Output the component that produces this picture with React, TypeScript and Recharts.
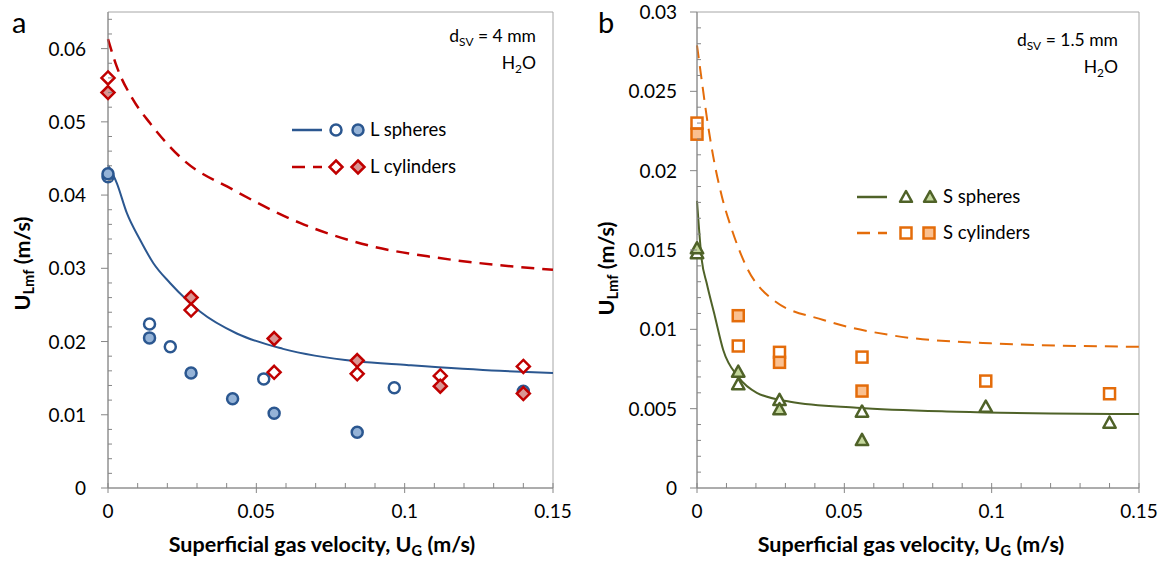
import React from "react";
import {
  ComposedChart,
  Line,
  Scatter,
  XAxis,
  YAxis,
  ReferenceArea,
} from "recharts";

// ---- panel a: large particles (dSV = 4 mm) ----
const lsFit = [
  { x: 0, y: 0.0441 },
  { x: 0.003, y: 0.0416 },
  { x: 0.0063, y: 0.0376 },
  { x: 0.0108, y: 0.0339 },
  { x: 0.0153, y: 0.0307 },
  { x: 0.0209, y: 0.028 },
  { x: 0.0265, y: 0.0257 },
  { x: 0.031, y: 0.0241 },
  { x: 0.0434, y: 0.0211 },
  { x: 0.059, y: 0.019 },
  { x: 0.0838, y: 0.0173 },
  { x: 0.1007, y: 0.0168 },
  { x: 0.132, y: 0.016 },
  { x: 0.15, y: 0.0157 },
];
const lcFit = [
  { x: 0, y: 0.0613 },
  { x: 0.0029, y: 0.0576 },
  { x: 0.0085, y: 0.053 },
  { x: 0.0142, y: 0.0498 },
  { x: 0.0254, y: 0.0448 },
  { x: 0.0423, y: 0.0407 },
  { x: 0.0647, y: 0.0362 },
  { x: 0.088, y: 0.0331 },
  { x: 0.11, y: 0.0315 },
  { x: 0.13, y: 0.0305 },
  { x: 0.15, y: 0.0298 },
];
const lsOpen = [
  { x: 0, y: 0.0425 },
  { x: 0.014, y: 0.0224 },
  { x: 0.021, y: 0.0193 },
  { x: 0.0525, y: 0.0149 },
  { x: 0.0965, y: 0.0137 },
];
const lsFilled = [
  { x: 0, y: 0.0429 },
  { x: 0.014, y: 0.0205 },
  { x: 0.028, y: 0.0157 },
  { x: 0.042, y: 0.0122 },
  { x: 0.056, y: 0.0102 },
  { x: 0.084, y: 0.0076 },
  { x: 0.14, y: 0.0132 },
];
const lcOpen = [
  { x: 0, y: 0.056 },
  { x: 0.028, y: 0.0243 },
  { x: 0.056, y: 0.0158 },
  { x: 0.084, y: 0.0156 },
  { x: 0.112, y: 0.0153 },
  { x: 0.14, y: 0.0166 },
];
const lcFilled = [
  { x: 0, y: 0.054 },
  { x: 0.028, y: 0.026 },
  { x: 0.056, y: 0.0204 },
  { x: 0.084, y: 0.0174 },
  { x: 0.112, y: 0.0139 },
  { x: 0.14, y: 0.0129 },
];

// ---- panel b: small particles (dSV = 1.5 mm) ----
const ssFit = [
  { x: 0, y: 0.0181 },
  { x: 0.0016, y: 0.0144 },
  { x: 0.0033, y: 0.0129 },
  { x: 0.0061, y: 0.0108 },
  { x: 0.0089, y: 0.0087 },
  { x: 0.014, y: 0.007 },
  { x: 0.0203, y: 0.006 },
  { x: 0.0316, y: 0.00544 },
  { x: 0.0542, y: 0.00506 },
  { x: 0.0882, y: 0.00481 },
  { x: 0.12, y: 0.0047 },
  { x: 0.15, y: 0.00466 },
];
const scFit = [
  { x: 0, y: 0.0279 },
  { x: 0.0016, y: 0.0257 },
  { x: 0.0033, y: 0.0234 },
  { x: 0.0055, y: 0.0209 },
  { x: 0.0084, y: 0.0184 },
  { x: 0.0118, y: 0.0163 },
  { x: 0.0169, y: 0.0139 },
  { x: 0.0259, y: 0.01185 },
  { x: 0.0429, y: 0.01059 },
  { x: 0.0655, y: 0.00964 },
  { x: 0.0995, y: 0.00912 },
  { x: 0.15, y: 0.0089 },
];
const ssOpen = [
  { x: 0, y: 0.0148 },
  { x: 0.014, y: 0.00653 },
  { x: 0.028, y: 0.00554 },
  { x: 0.056, y: 0.00481 },
  { x: 0.098, y: 0.00512 },
  { x: 0.14, y: 0.00411 },
];
const ssFilled = [
  { x: 0, y: 0.0151 },
  { x: 0.014, y: 0.00733 },
  { x: 0.028, y: 0.00496 },
  { x: 0.056, y: 0.00302 },
];
const scOpen = [
  { x: 0, y: 0.023 },
  { x: 0.014, y: 0.00895 },
  { x: 0.028, y: 0.00855 },
  { x: 0.056, y: 0.00825 },
  { x: 0.098, y: 0.00674 },
  { x: 0.14, y: 0.00594 },
];
const scFilled = [
  { x: 0, y: 0.0223 },
  { x: 0.014, y: 0.01086 },
  { x: 0.028, y: 0.00792 },
  { x: 0.056, y: 0.00611 },
];

// ---- axis ticks ----
const xTicks = [
  0, 0.01, 0.02, 0.03, 0.04, 0.05, 0.06, 0.07, 0.08, 0.09, 0.1, 0.11, 0.12,
  0.13, 0.14, 0.15,
];
const xMajor = [0, 0.05, 0.1, 0.15];
const yTicksA = [
  0, 0.002, 0.004, 0.006, 0.008, 0.01, 0.012, 0.014, 0.016, 0.018, 0.02, 0.022,
  0.024, 0.026, 0.028, 0.03, 0.032, 0.034, 0.036, 0.038, 0.04, 0.042, 0.044,
  0.046, 0.048, 0.05, 0.052, 0.054, 0.056, 0.058, 0.06, 0.062, 0.064,
];
const yMajorA = [0, 0.01, 0.02, 0.03, 0.04, 0.05, 0.06];
const yTicksB = [
  0, 0.001, 0.002, 0.003, 0.004, 0.005, 0.006, 0.007, 0.008, 0.009, 0.01,
  0.011, 0.012, 0.013, 0.014, 0.015, 0.016, 0.017, 0.018, 0.019, 0.02, 0.021,
  0.022, 0.023, 0.024, 0.025, 0.026, 0.027, 0.028, 0.029, 0.03,
];
const yMajorB = [0, 0.005, 0.01, 0.015, 0.02, 0.025, 0.03];

const FONT = "Lato, 'Open Sans', sans-serif";
const AXIS = "#868686";
const FRAME = "#A6A6A6";
const DASH = "13 8";

const BLUE = "#2B5790";
const BLUE_FILL = "#95B3D7";
const RED = "#C00000";
const RED_FILL = "#D99694";
const GREEN = "#4F6228";
const GREEN_FILL = "#C3D69B";
const ORANGE = "#E46C0A";
const ORANGE_FILL = "#FAC090";

const near = (v: number, list: number[]) =>
  list.some((m) => Math.abs(m - v) < 1e-7);

function makeXTick() {
  return (props: any) => {
    const { x, y, payload } = props;
    const major = near(payload.value, xMajor);
    return (
      <g>
        {major ? (
          <line x1={x} x2={x} y1={y - 5} y2={y + 5} stroke={AXIS} />
        ) : (
          <line x1={x} x2={x} y1={y - 5} y2={y} stroke={AXIS} />
        )}
        {major && (
          <text
            x={x}
            y={y + 30}
            textAnchor="middle"
            fontFamily={FONT}
            fontSize={19}
            fill="#000"
          >
            {String(payload.value)}
          </text>
        )}
      </g>
    );
  };
}

function makeYTick(majors: number[], gap: number) {
  return (props: any) => {
    const { x, y, payload } = props;
    const major = near(payload.value, majors);
    return (
      <g>
        {major ? (
          <line x1={x - 7} x2={x} y1={y} y2={y} stroke={AXIS} />
        ) : (
          <line x1={x} x2={x + 4} y1={y} y2={y} stroke={AXIS} />
        )}
        {major && (
          <text
            x={x - gap}
            y={y + 7}
            textAnchor="end"
            fontFamily={FONT}
            fontSize={19}
            fill="#000"
          >
            {String(payload.value)}
          </text>
        )}
      </g>
    );
  };
}

const circleShape = (stroke: string, fill: string) => (p: any) =>
  <circle cx={p.cx} cy={p.cy} r={5.5} fill={fill} stroke={stroke} strokeWidth={2.5} />;

const diamondShape = (stroke: string, fill: string) => (p: any) => {
  const s = 6.5;
  return (
    <polygon
      points={`${p.cx},${p.cy - s} ${p.cx + s},${p.cy} ${p.cx},${p.cy + s} ${p.cx - s},${p.cy}`}
      fill={fill}
      stroke={stroke}
      strokeWidth={2.5}
    />
  );
};

const squareShape = (stroke: string, fill: string) => (p: any) =>
  <rect x={p.cx - 5.5} y={p.cy - 5.5} width={11} height={11} fill={fill} stroke={stroke} strokeWidth={2.5} />;

const triangleShape = (stroke: string, fill: string) => (p: any) => {
  const h = 6.2;
  return (
    <polygon
      points={`${p.cx},${p.cy - h} ${p.cx + h},${p.cy + h * 0.8} ${p.cx - h},${p.cy + h * 0.8}`}
      fill={fill}
      stroke={stroke}
      strokeWidth={2.5}
      strokeLinejoin="round"
    />
  );
};

const sub = (t: string) => (
  <span style={{ fontSize: "0.68em", position: "relative", top: "0.3em" }}>{t}</span>
);

function Text({ left, top, right, children, style }: any) {
  return (
    <div
      style={{
        position: "absolute",
        left,
        top,
        right,
        fontFamily: FONT,
        fontSize: 17.5,
        lineHeight: "20px",
        color: "#000",
        whiteSpace: "nowrap",
        ...style,
      }}
    >
      {children}
    </div>
  );
}

function LegendRow({ left, top, line, dash, a, b, label, textLeft }: any) {
  return (
    <div style={{ position: "absolute", left, top, height: 24 }}>
      <svg width={90} height={24} style={{ position: "absolute", left: 0, top: 0 }}>
        <line x1={0} x2={30} y1={12} y2={12} stroke={line} strokeWidth={2.5} strokeDasharray={dash} />
        {a}
        {b}
      </svg>
      <span
        style={{
          position: "absolute",
          left: textLeft,
          top: 0,
          fontFamily: FONT,
          fontSize: 18.5,
          whiteSpace: "nowrap",
        }}
      >
        {label}
      </span>
    </div>
  );
}

function PanelA() {
  return (
    <div style={{ position: "absolute", left: 0, top: 0 }}>
      <ComposedChart width={580} height={562} margin={{ top: 12, right: 27, bottom: 0, left: 0 }}>
        <XAxis
          dataKey="x"
          type="number"
          domain={[0, 0.15]}
          ticks={xTicks}
          interval={0}
          height={74}
          stroke={AXIS}
          tickSize={0}
          tickMargin={0}
          tickLine={false}
          tick={makeXTick()}
        />
        <YAxis
          type="number"
          domain={[0, 0.065]}
          ticks={yTicksA}
          interval={0}
          width={108}
          stroke={AXIS}
          tickSize={0}
          tickMargin={0}
          tickLine={false}
          tick={makeYTick(yMajorA, 22)}
        />
        <ReferenceArea x1={0} x2={0.15} y1={0} y2={0.065} fill="none" stroke={FRAME} ifOverflow="visible" />
        <Line data={lcFit} dataKey="y" type="monotone" stroke={RED} strokeWidth={2.5} strokeDasharray={DASH} dot={false} isAnimationActive={false} />
        <Line data={lsFit} dataKey="y" type="monotone" stroke={BLUE} strokeWidth={2} dot={false} isAnimationActive={false} />
        <Scatter data={lsOpen} dataKey="y" shape={circleShape(BLUE, "#fff")} isAnimationActive={false} />
        <Scatter data={lsFilled} dataKey="y" shape={circleShape(BLUE, BLUE_FILL)} isAnimationActive={false} />
        <Scatter data={lcOpen} dataKey="y" shape={diamondShape(RED, "#fff")} isAnimationActive={false} />
        <Scatter data={lcFilled} dataKey="y" shape={diamondShape(RED, RED_FILL)} isAnimationActive={false} />
      </ComposedChart>
    </div>
  );
}

function PanelB() {
  return (
    <div style={{ position: "absolute", left: 590, top: 0 }}>
      <ComposedChart width={577} height={562} margin={{ top: 12, right: 28, bottom: 0, left: 0 }}>
        <XAxis
          dataKey="x"
          type="number"
          domain={[0, 0.15]}
          ticks={xTicks}
          interval={0}
          height={74}
          stroke={AXIS}
          tickSize={0}
          tickMargin={0}
          tickLine={false}
          tick={makeXTick()}
        />
        <YAxis
          type="number"
          domain={[0, 0.03]}
          ticks={yTicksB}
          interval={0}
          width={107}
          stroke={AXIS}
          tickSize={0}
          tickMargin={0}
          tickLine={false}
          tick={makeYTick(yMajorB, 20)}
        />
        <ReferenceArea x1={0} x2={0.15} y1={0} y2={0.03} fill="none" stroke={FRAME} ifOverflow="visible" />
        <Line data={scFit} dataKey="y" type="monotone" stroke={ORANGE} strokeWidth={2} strokeDasharray={DASH} dot={false} isAnimationActive={false} />
        <Line data={ssFit} dataKey="y" type="monotone" stroke={GREEN} strokeWidth={2} dot={false} isAnimationActive={false} />
        <Scatter data={ssOpen} dataKey="y" shape={triangleShape(GREEN, "#fff")} isAnimationActive={false} />
        <Scatter data={ssFilled} dataKey="y" shape={triangleShape(GREEN, GREEN_FILL)} isAnimationActive={false} />
        <Scatter data={scOpen} dataKey="y" shape={squareShape(ORANGE, "#fff")} isAnimationActive={false} />
        <Scatter data={scFilled} dataKey="y" shape={squareShape(ORANGE, ORANGE_FILL)} isAnimationActive={false} />
      </ComposedChart>
    </div>
  );
}

export default function App() {
  const xTitle = (
    <>
      Superficial gas velocity, U{sub("G")} (m/s)
    </>
  );
  const yTitle = (
    <>
      U{sub("Lmf")} (m/s)
    </>
  );
  return (
    <div
      style={{
        position: "absolute",
        left: 0,
        top: 0,
        width: 1167,
        height: 562,
        background: "#fff",
        overflow: "hidden",
      }}
    >
      <PanelA />
      <PanelB />

      {/* panel letters */}
      <Text left={12} top={6} style={{ fontSize: 29, lineHeight: "32px" }}>a</Text>
      <Text left={598} top={6} style={{ fontSize: 29, lineHeight: "32px" }}>b</Text>

      {/* annotations */}
      <Text left={330} top={26} style={{ width: 206, textAlign: "right" }}>
        d{sub("SV")} = 4 mm
        <br />
        <span style={{ display: "inline-block", marginTop: 5 }}>H{sub("2")}O</span>
      </Text>
      <Text left={910} top={30} style={{ width: 208, textAlign: "right" }}>
        d{sub("SV")} = 1.5 mm
        <br />
        <span style={{ display: "inline-block", marginTop: 5 }}>H{sub("2")}O</span>
      </Text>

      {/* legends */}
      <LegendRow
        left={292}
        top={118}
        line={BLUE}
        textLeft={78}
        a={<circle cx={44} cy={12} r={5.5} fill="#fff" stroke={BLUE} strokeWidth={2.5} />}
        b={<circle cx={66} cy={12} r={5.5} fill={BLUE_FILL} stroke={BLUE} strokeWidth={2.5} />}
        label="L spheres"
      />
      <LegendRow
        left={292}
        top={155}
        line={RED}
        dash={DASH}
        textLeft={78}
        a={<polygon points="44,5.5 50.5,12 44,18.5 37.5,12" fill="#fff" stroke={RED} strokeWidth={2.5} />}
        b={<polygon points="66,5.5 72.5,12 66,18.5 59.5,12" fill={RED_FILL} stroke={RED} strokeWidth={2.5} />}
        label="L cylinders"
      />
      <LegendRow
        left={857}
        top={185}
        line={GREEN}
        textLeft={86}
        a={<polygon points="49,6 55,16.8 43,16.8" fill="#fff" stroke={GREEN} strokeWidth={2.5} strokeLinejoin="round" />}
        b={<polygon points="73,6 79,16.8 67,16.8" fill={GREEN_FILL} stroke={GREEN} strokeWidth={2.5} strokeLinejoin="round" />}
        label="S spheres"
      />
      <LegendRow
        left={857}
        top={221}
        line={ORANGE}
        dash={DASH}
        textLeft={86}
        a={<rect x={43.5} y={6.5} width={11} height={11} fill="#fff" stroke={ORANGE} strokeWidth={2.5} />}
        b={<rect x={66.5} y={6.5} width={11} height={11} fill={ORANGE_FILL} stroke={ORANGE} strokeWidth={2.5} />}
        label="S cylinders"
      />

      {/* axis titles */}
      <Text left={122} top={533} style={{ width: 400, textAlign: "center", fontWeight: 700, fontSize: 21.5, lineHeight: "22px" }}>
        {xTitle}
      </Text>
      <Text left={711} top={533} style={{ width: 400, textAlign: "center", fontWeight: 700, fontSize: 21.5, lineHeight: "22px" }}>
        {xTitle}
      </Text>
      <Text
        left={-77}
        top={250}
        style={{ width: 200, textAlign: "center", fontWeight: 700, fontSize: 21.5, lineHeight: "24px", transform: "rotate(-90deg)" }}
      >
        {yTitle}
      </Text>
      <Text
        left={507}
        top={255}
        style={{ width: 200, textAlign: "center", fontWeight: 700, fontSize: 21.5, lineHeight: "24px", transform: "rotate(-90deg)" }}
      >
        {yTitle}
      </Text>
    </div>
  );
}
